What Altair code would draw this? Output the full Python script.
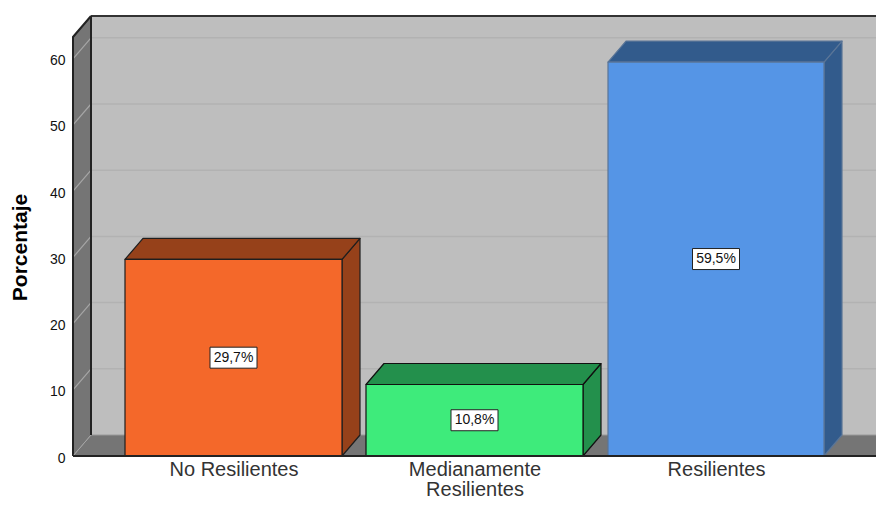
import altair as alt
import pandas as pd

categories = ["No Resilientes", "Medianamente|Resilientes", "Resilientes"]
values = [29.7, 10.8, 59.5]
value_labels = ["29,7%", "10,8%", "59,5%"]
bar_left = [52, 293, 535]
bar_right = [269, 510, 751]
front_colors = ["#F4682A", "#3EEB7B", "#5595E6"]
dark_colors = ["#96411A", "#23904C", "#325B8C"]
edge_colors = ["#1E1E1E", "#111111", "#5A7597"]
y_ticks = [0, 10, 20, 30, 40, 50, 60]

DX, DY = 18, 3.17
XMAX, YMAX = 803, 66.46

xs = alt.Scale(domain=[0, XMAX], nice=False, zero=False)
ys = alt.Scale(domain=[0, YMAX], nice=False, zero=False)
FONT = "Liberation Sans"

centers = [(a + b) / 2 for a, b in zip(bar_left, bar_right)]
label_expr = " : ".join(
    f"abs(datum.value - {c}) < 1 ? split('{n}', '|')" for c, n in zip(centers, categories)
) + " : ''"

x_axis = alt.Axis(
    values=centers, labelExpr=label_expr, title=None, domain=False, ticks=False, grid=False,
    labelFont=FONT, labelFontSize=20, labelColor="#333333", labelPadding=3,
    labelLineHeight=20, labelAngle=0, labelOverlap=False, labelFlush=False, labelBound=False,
)
y_axis = alt.Axis(
    values=y_ticks, title="Porcentaje", domain=False, ticks=False, grid=False,
    labelFont=FONT, labelFontSize=14, labelColor="#111111", labelPadding=8, labelOffset=2,
    titleFont=FONT, titleFontSize=21, titleFontWeight="bold", titleColor="#000000",
    titleX=-43, titleY=231, format="d",
)
X = alt.X("x:Q", scale=xs, axis=x_axis)
Y = alt.Y("y:Q", scale=ys, axis=y_axis, stack=None)


def poly(rows, fill, stroke=None, sw=1.0):
    df = pd.DataFrame(rows, columns=["x", "y", "y2"])
    kw = {"fill": fill, "orient": "vertical", "clip": False}
    if stroke:
        kw.update(stroke=stroke, strokeWidth=sw, strokeJoin="round")
    return alt.Chart(df).mark_area(**kw).encode(x=X, y=Y, y2="y2:Q")


def seg(rows, color, sw):
    df = pd.DataFrame(rows, columns=["x", "y", "k"])
    return alt.Chart(df).mark_line(color=color, strokeWidth=sw, clip=False).encode(x=X, y=Y, detail="k:N")


layers = []
# back wall, floor, left wall
layers.append(poly([(DX, DY, YMAX), (XMAX, DY, YMAX)], "#BEBEBE"))
layers.append(poly([(0, 0, 0), (DX, DY, 0), (XMAX, DY, 0)], "#757575"))
layers.append(poly([(0, 0, YMAX - DY), (DX, DY, YMAX)], "#757575"))
# grid
layers.append(seg([(DX, t + DY, t) for t in y_ticks[1:]] + [(XMAX, t + DY, t) for t in y_ticks[1:]], "#B2B2B2", 1.5))
layers.append(seg([(0, t, t) for t in y_ticks[1:]] + [(DX, t + DY, t) for t in y_ticks[1:]], "#A6A6A6", 1.2))
layers.append(seg([(DX, DY, 0), (XMAX, DY, 0)], "#9A9A9A", 1))
# frame
layers.append(seg([(DX, YMAX, 0), (XMAX, YMAX, 0)], "#333333", 2))
layers.append(seg([(0, 0, 0), (0, YMAX - DY, 0), (DX, YMAX, 0)], "#222222", 2))
layers.append(seg([(DX, DY, 0), (DX, YMAX, 0)], "#222222", 2))
layers.append(seg([(0, 0, 0), (DX, DY, 0)], "#A6A6A6", 1))
# bars
for l, r, v, f, d, e in zip(bar_left, bar_right, values, front_colors, dark_colors, edge_colors):
    layers.append(poly([(r, 0, v), (r + DX, DY, v + DY)], d, e, 1.2))
    layers.append(poly([(l, v, v), (l + DX, v + DY, v), (r, v + DY, v), (r + DX, v + DY, v + DY)], d, e, 1.2))
    layers.append(poly([(l, 0, v), (r, 0, v)], f, e, 1.2))
# bottom line
layers.append(seg([(0, 0, 0), (XMAX, 0, 0)], "#222222", 2))
# value labels
lab = pd.DataFrame({"x": centers, "y": [v / 2 for v in values], "t": value_labels})
layers.append(alt.Chart(lab).mark_rect(width=47, height=21, fill="white", stroke="#222222", strokeWidth=1).encode(x=X, y=Y))
layers.append(alt.Chart(lab).mark_text(font=FONT, fontSize=14, color="#111111").encode(x=X, y=Y, text="t:N"))

chart = alt.layer(*layers).resolve_scale(x="shared", y="shared").properties(
    width=XMAX, height=440,
    autosize=alt.AutoSizeParams(type="none"),
    padding={"left": 65, "top": 8, "right": 0, "bottom": 43},
    background="white",
).configure_view(stroke=None)

chart.save("out.html", embed_options={"renderer": "svg", "actions": False})
